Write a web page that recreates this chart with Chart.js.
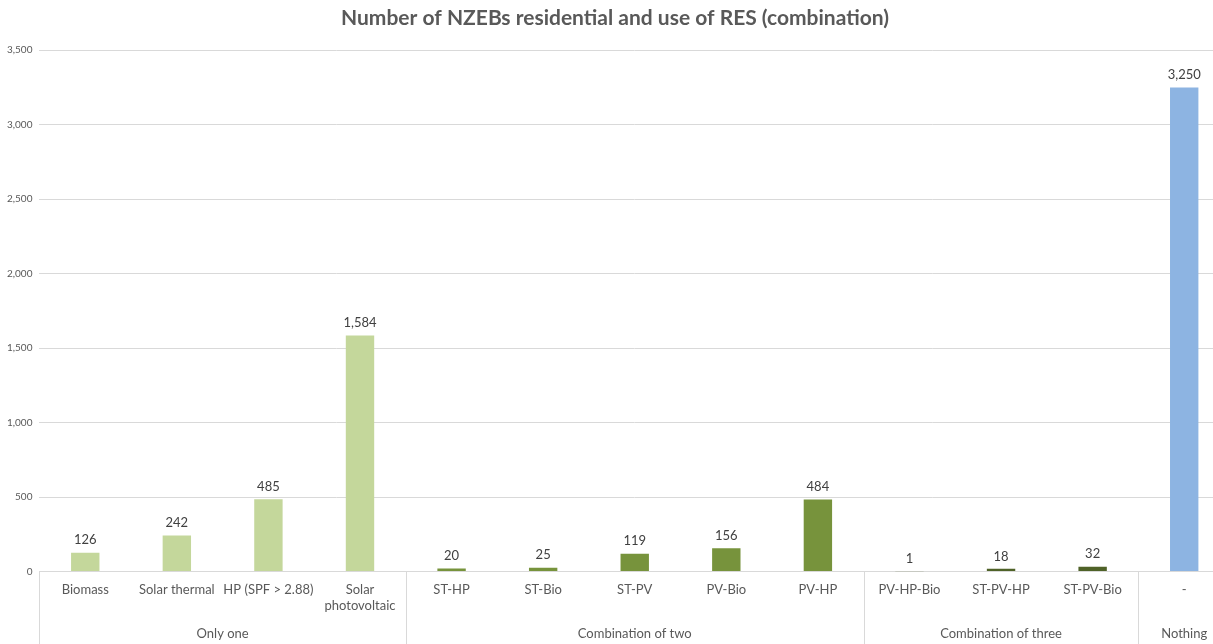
<!DOCTYPE html>
<html>
<head>
<meta charset="utf-8">
<script src="https://cdn.jsdelivr.net/npm/chart.js@4/dist/chart.umd.min.js"></script>
<style>
  html, body { margin: 0; padding: 0; background: #fff; overflow: hidden; }
  #wrap { width: 1230px; height: 644px; }
</style>
</head>
<body>
<div id="wrap"><canvas id="myChart"></canvas></div>
<script>
"use strict";

// Data
const categories = [
  "Biomass", "Solar thermal", "HP (SPF > 2.88)", ["Solar", "photovoltaic"],
  "ST-HP", "ST-Bio", "ST-PV", "PV-Bio", "PV-HP",
  "PV-HP-Bio", "ST-PV-HP", "ST-PV-Bio",
  "-"
];
const values = [126, 242, 485, 1584, 20, 25, 119, 156, 484, 1, 18, 32, 3250];
const groups = ["Only one", "Combination of two", "Combination of three", "Nothing"];
const groupSizes = [4, 5, 3, 1];
const groupColors = ["#c4d79b", "#77933c", "#4f6228", "#8db4e2"];
const yTicks = [0, 500, 1000, 1500, 2000, 2500, 3000, 3500];

// bar colour by group
const barColors = [];
groupSizes.forEach((n, g) => {
  for (let i = 0; i < n; i++) barColors.push(groupColors[g]);
});

const fontFamily = "Lato, 'Open Sans', sans-serif";
const fmt = (v) => v.toLocaleString("en-US");

// data labels + group axis
const extras = {
  id: "extras",
  afterDatasetsDraw(chart) {
    const ctx = chart.ctx;
    const meta = chart.getDatasetMeta(0);
    ctx.save();
    ctx.font = "13px " + fontFamily;
    ctx.fillStyle = "#404040";
    ctx.textAlign = "center";
    ctx.textBaseline = "bottom";
    meta.data.forEach((bar, i) => {
      ctx.fillText(fmt(values[i]), bar.x, bar.y - 6);
    });
    ctx.restore();
  },
  afterDraw(chart) {
    const ctx = chart.ctx;
    const x = chart.scales.x;
    const area = chart.chartArea;
    const half = (x.getPixelForValue(1) - x.getPixelForValue(0)) / 2;
    ctx.save();
    ctx.strokeStyle = "#d9d9d9";
    ctx.lineWidth = 1;
    ctx.font = "13px " + fontFamily;
    ctx.fillStyle = "#595959";
    ctx.textAlign = "center";
    ctx.textBaseline = "middle";
    let start = 0;
    const bounds = [x.getPixelForValue(0) - half];
    groupSizes.forEach((n, g) => {
      const left = x.getPixelForValue(start) - half;
      const right = x.getPixelForValue(start + n - 1) + half;
      bounds.push(right);
      ctx.fillText(groups[g], (left + right) / 2, area.bottom + 62);
      start += n;
    });
    bounds.forEach((bx) => {
      const px = Math.round(bx) + 0.5;
      ctx.beginPath();
      ctx.moveTo(px, area.bottom);
      ctx.lineTo(px, chart.height);
      ctx.stroke();
    });
    ctx.restore();
  }
};

const ctx = document.getElementById("myChart").getContext("2d");
const myChart = new Chart(ctx, {
  type: "bar",
  data: {
    labels: categories,
    datasets: [{
      data: values,
      backgroundColor: barColors,
      borderWidth: 0,
      categoryPercentage: 1,
      barPercentage: 0.31
    }]
  },
  options: {
    responsive: true,
    maintainAspectRatio: false,
    animation: false,
    layout: { padding: { left: 0, right: 0, top: 0, bottom: 28 } },
    plugins: {
      legend: { display: false },
      tooltip: { enabled: false },
      title: {
        display: true,
        text: "Number of NZEBs residential and use of RES (combination)",
        color: "#595959",
        font: { family: fontFamily, size: 21, weight: "bold" },
        padding: { top: 6, bottom: 19 }
      }
    },
    scales: {
      x: {
        grid: { display: false },
        border: { color: "#d9d9d9" },
        ticks: {
          color: "#595959",
          font: { family: fontFamily, size: 13, lineHeight: 1.25 },
          maxRotation: 0,
          autoSkip: false,
          padding: 2
        }
      },
      y: {
        min: 0,
        max: 3500,
        afterBuildTicks(scale) {
          scale.ticks = yTicks.map((v) => ({ value: v }));
        },
        grid: { color: "#d9d9d9", drawTicks: false },
        border: { display: false },
        ticks: {
          color: "#595959",
          font: { family: fontFamily, size: 10 },
          padding: 7,
          callback: (v) => fmt(v)
        }
      }
    }
  },
  plugins: [extras]
});
</script>
</body>
</html>
